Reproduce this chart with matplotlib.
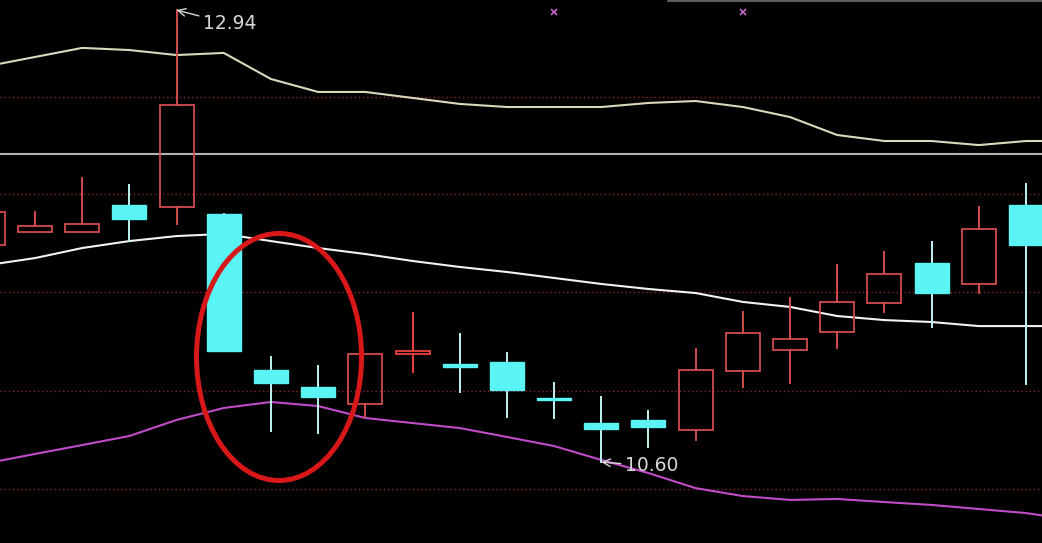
import numpy as np
import matplotlib
matplotlib.use("Agg")
import matplotlib.pyplot as plt
from matplotlib import patches

# candle data, index 0 is the candle cut off at the left edge
opens  = [11.724, 11.791, 11.791, 11.931, 11.920, 11.884, 11.077, 10.989, 10.901, 11.159, 11.108, 11.118,
          10.932, 10.802, 10.818, 10.766, 11.071, 11.180, 11.273, 11.423, 11.630, 11.522, 11.931]
highs  = [11.931, 11.894, 12.071, 12.034, 12.940, 11.884, 11.144, 11.097, 11.159, 11.372, 11.263, 11.165,
          11.009, 10.937, 10.864, 11.185, 11.377, 11.449, 11.620, 11.687, 11.739, 11.920, 12.039]
lows   = [11.708, 11.791, 11.791, 11.744, 11.832, 11.175, 10.761, 10.750, 10.833, 11.066, 10.963, 10.833,
          10.828, 10.600, 10.678, 10.714, 10.989, 11.009, 11.190, 11.377, 11.299, 11.475, 11.004]
closes = [11.894, 11.822, 11.832, 11.858, 12.448, 11.175, 11.009, 10.937, 11.159, 11.175, 11.092, 10.973,
          10.921, 10.771, 10.781, 11.077, 11.268, 11.237, 11.429, 11.573, 11.475, 11.806, 11.724]

# band lines (one more point past the right edge)
upper = [12.650, 12.697, 12.744, 12.733, 12.707, 12.718, 12.583, 12.516, 12.516, 12.485, 12.454, 12.438,
         12.438, 12.438, 12.459, 12.469, 12.438, 12.386, 12.293, 12.262, 12.262, 12.241, 12.262, 12.262]
mid    = [11.620, 11.656, 11.708, 11.744, 11.770, 11.781, 11.744, 11.708, 11.677, 11.641, 11.610, 11.584,
          11.553, 11.522, 11.496, 11.475, 11.429, 11.403, 11.356, 11.335, 11.325, 11.304, 11.304, 11.304]
lower  = [10.595, 10.642, 10.688, 10.735, 10.818, 10.880, 10.911, 10.890, 10.828, 10.802, 10.776, 10.730,
          10.683, 10.611, 10.543, 10.465, 10.424, 10.404, 10.409, 10.393, 10.378, 10.357, 10.336, 10.300]

grid_levels = [12.49, 11.99, 11.48, 10.97, 10.46]
base_level = 12.195
hi_label, hi_idx, hi_val = "12.94", 4, 12.94
lo_label, lo_idx, lo_val = "10.60", 13, 10.60
marks_idx = [12, 16]

RED = '#d24c4c'
RED_DOJI = '#f04040'
CYAN = '#5af4f4'
CYAN_WICK = '#bff2f2'
W = 0.72


def draw_candles(ax):
    for i, (o, h, l, c) in enumerate(zip(opens, highs, lows, closes)):
        bot, top = min(o, c), max(o, c)
        if c >= o:  # up candle: hollow red
            col = RED_DOJI if top - bot < 0.02 else RED
            ax.plot([i, i], [top, h], color=col, lw=1.4, zorder=3)
            ax.plot([i, i], [l, bot], color=col, lw=1.4, zorder=3)
            ax.add_patch(patches.Rectangle((i - W / 2, bot), W, top - bot, fill=False,
                                           edgecolor=col, lw=1.3, zorder=4))
        else:  # down candle: filled cyan
            ax.plot([i, i], [l, h], color=CYAN_WICK, lw=1.4, zorder=3)
            ax.add_patch(patches.Rectangle((i - W / 2, bot), W, top - bot,
                                           facecolor=CYAN, edgecolor=CYAN, lw=1.0, zorder=4))


def main():
    fig = plt.figure(figsize=(10.42, 5.43), dpi=100, facecolor='black')
    ax = fig.add_axes([0, 0, 1, 1])
    ax.set_facecolor('black')
    ax.set_xlim(0.2585, 22.339)
    ax.set_ylim(10.181, 12.992)
    ax.axis('off')

    for g in grid_levels:
        ax.axhline(g, color='#8a2626', lw=1.0, ls=(0, (1, 2)), zorder=1)
    ax.axhline(base_level, color='#b4b4b4', lw=1.5, zorder=2)
    ax.axhline(12.989, xmin=0.641, xmax=1, color='#707070', lw=1.2, zorder=2)

    x = np.arange(len(upper))
    ax.plot(x, upper, color='#dcd8bc', lw=1.5, zorder=2)
    ax.plot(x, mid, color='#f2f2f2', lw=1.5, zorder=2)
    ax.plot(x, lower, color='#c04cc8', lw=1.5, zorder=2)

    draw_candles(ax)

    ax.plot(marks_idx, [12.93] * len(marks_idx), 'x', color='#c864c8', ms=5, mew=1.2, zorder=5)

    ax.annotate(hi_label, xy=(hi_idx, hi_val), xytext=(4.56, 12.868), color='#d8d8d8',
                fontsize=13.5, ha='left', va='center', zorder=6,
                arrowprops=dict(arrowstyle='->', color='#d8d8d8', lw=1.0, shrinkA=1, shrinkB=0))
    ax.annotate(lo_label, xy=(lo_idx, lo_val), xytext=(13.50, 10.580), color='#d8d8d8',
                fontsize=13.5, ha='left', va='center', zorder=6,
                arrowprops=dict(arrowstyle='->', color='#d8d8d8', lw=1.0, shrinkA=1, shrinkB=0))

    # 강조 원
    ell = patches.Ellipse((6.171, 11.144), 3.497, 1.279, fill=False, edgecolor='#d81818', lw=3.6, zorder=7)
    ax.add_patch(ell)

    fig.savefig('out.png', dpi=100, facecolor='black')


if __name__ == "__main__":
    main()
